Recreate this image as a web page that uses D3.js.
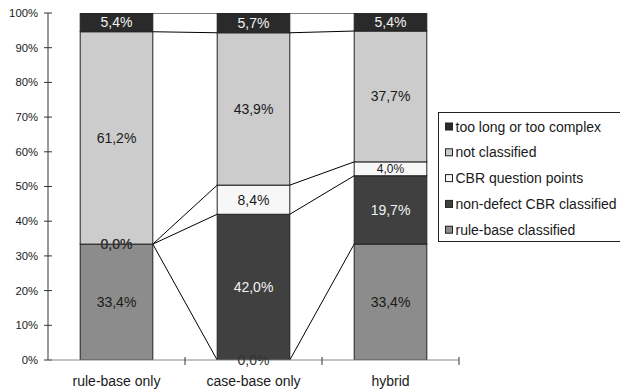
<!DOCTYPE html>
<html>
<head>
<meta charset="utf-8">
<script src="https://cdn.jsdelivr.net/npm/d3@7/dist/d3.min.js"></script>
<style>
  html, body { margin: 0; padding: 0; background: #fff; }
  svg { display: block; font-family: "Liberation Sans", Arial, sans-serif; }
</style>
</head>
<body>
<svg id="chart" width="620" height="389"></svg>
<script>
// Categories along the x axis
const categories = ["rule-base only", "case-base only", "hybrid"];

// Series, bottom to top of each stack (percent)
const seriesNames = [
  "rule-base classified",
  "non-defect CBR classified",
  "CBR question points",
  "not classified",
  "too long or too complex"
];
const ruleBase   = [33.4, 0.0, 33.4];
const nonDefect  = [0.0, 42.0, 19.7];
const questions  = [0.0, 8.4, 4.0];
const notClass   = [61.2, 43.9, 37.7];
const tooLong    = [5.4, 5.7, 5.4];

const yTicks = [0, 10, 20, 30, 40, 50, 60, 70, 80, 90, 100];

const seriesValues = [ruleBase, nonDefect, questions, notClass, tooLong];
const fills     = ["#8c8c8c", "#404040", "#f7f7f7", "#cccccc", "#2a2a2a"];
const textFills = ["#1a1a1a", "#f2f2f2", "#1a1a1a", "#1a1a1a", "#f2f2f2"];

const svg = d3.select("#chart");

const x = d3.scaleBand()
  .domain(categories)
  .range([48, 459])
  .paddingInner(0.47)
  .paddingOuter(0.235);

const y = d3.scaleLinear().domain([0, 100]).range([360, 13]);

const locale = d3.formatLocale({ decimal: ",", thousands: ".", grouping: [3], currency: ["", ""] });
const fmtVal = locale.format(".1f");

// Stack the series
const rows = categories.map((c, i) => {
  const r = { cat: c };
  seriesNames.forEach((s, k) => { r[s] = seriesValues[k][i]; });
  return r;
});
const stacked = d3.stack().keys(seriesNames)(rows);

// Clip the plot area so stacks summing past 100% stop at the top
svg.append("defs").append("clipPath").attr("id", "plotClip")
  .append("rect").attr("x", 48).attr("y", y(100)).attr("width", 411).attr("height", y(0) - y(100));

const plot = svg.append("g").attr("clip-path", "url(#plotClip)");

// Series lines joining the tops of each segment between neighbouring bars
stacked.forEach(layer => {
  for (let i = 0; i < categories.length - 1; i++) {
    const a = layer[i], b = layer[i + 1];
    plot.append("line")
      .attr("x1", x(categories[i]) + x.bandwidth())
      .attr("x2", x(categories[i + 1]))
      .attr("y1", y(Math.min(100, a[1])))
      .attr("y2", y(Math.min(100, b[1])))
      .attr("stroke", "#000")
      .attr("stroke-width", 1);
  }
});

// Bar segments
stacked.forEach((layer, k) => {
  plot.selectAll(null)
    .data(layer)
    .enter().append("rect")
    .attr("x", d => x(d.data.cat))
    .attr("y", d => y(d[1]))
    .attr("width", x.bandwidth())
    .attr("height", d => y(d[0]) - y(d[1]))
    .attr("fill", fills[k])
    .attr("stroke", "#222")
    .attr("stroke-width", 1);
});

// Y axis
const yAxis = svg.append("g");
yAxis.append("line")
  .attr("x1", 48).attr("x2", 48).attr("y1", y(100)).attr("y2", y(0))
  .attr("stroke", "#333");
yAxis.selectAll(null).data(yTicks).enter().append("line")
  .attr("x1", 44).attr("x2", 52)
  .attr("y1", d => y(d)).attr("y2", d => y(d))
  .attr("stroke", "#333");
yAxis.selectAll(null).data(yTicks).enter().append("text")
  .attr("x", 38).attr("y", d => y(d))
  .attr("dy", "0.35em")
  .attr("text-anchor", "end")
  .attr("font-size", "11.3px")
  .attr("fill", "#1a1a1a")
  .text(d => d + "%");

// X axis
const xAxis = svg.append("g");
xAxis.append("line")
  .attr("x1", 48).attr("x2", 459).attr("y1", y(0)).attr("y2", y(0))
  .attr("stroke", "#888");
const bounds = [0, 1, 2].map(i => x.range()[0] + x.step() * (i + 1));
xAxis.selectAll(null).data(bounds).enter().append("line")
  .attr("x1", d => d).attr("x2", d => d)
  .attr("y1", y(0) - 3).attr("y2", y(0) + 5)
  .attr("stroke", "#333");
xAxis.selectAll(null).data(categories).enter().append("text")
  .attr("x", d => x(d) + x.bandwidth() / 2)
  .attr("y", 386)
  .attr("text-anchor", "middle")
  .attr("font-size", "14px")
  .attr("fill", "#1a1a1a")
  .text(d => d);

// Data labels, drawn series by series
stacked.forEach((layer, k) => {
  svg.selectAll(null)
    .data(layer)
    .enter().append("text")
    .attr("x", d => x(d.data.cat) + x.bandwidth() / 2)
    .attr("y", d => y((d[0] + d[1]) / 2))
    .attr("dy", "0.36em")
    .attr("text-anchor", "middle")
    .attr("font-size", d => {
      const h = y(d[0]) - y(d[1]);
      return (h > 0 && h < 16) ? "12px" : "14px";
    })
    .attr("fill", d => (d[1] - d[0]) > 0 ? textFills[k] : "#333")
    .text(d => fmtVal(d[1] - d[0]) + "%");
});

// Legend, top series first
const legend = svg.append("g");
legend.append("rect")
  .attr("x", 438.5).attr("y", 112.5).attr("width", 190).attr("height", 129)
  .attr("fill", "#fff").attr("stroke", "#222");
const legendOrder = seriesNames.map((s, k) => ({ s, k })).reverse();
const item = legend.selectAll(null).data(legendOrder).enter().append("g")
  .attr("transform", (d, i) => `translate(0, ${126.5 + i * 25.8})`);
item.append("rect")
  .attr("x", 445.5).attr("y", -3.5).attr("width", 7).attr("height", 7)
  .attr("fill", d => fills[d.k]).attr("stroke", "#222");
item.append("text")
  .attr("x", 455.5).attr("y", 0).attr("dy", "0.36em")
  .attr("font-size", "14px")
  .attr("fill", "#1a1a1a")
  .text(d => d.s);
</script>
</body>
</html>
